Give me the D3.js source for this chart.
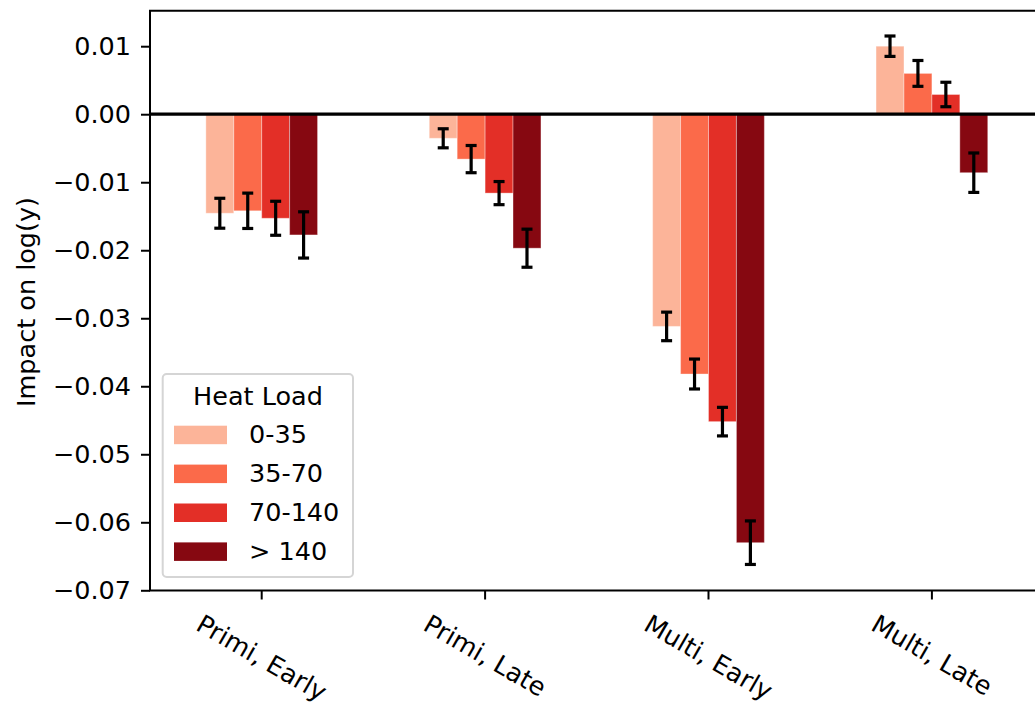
<!DOCTYPE html>
<html>
<head>
<meta charset="utf-8">
<script src="https://cdn.jsdelivr.net/npm/d3@7"></script>
<style>
  body { margin: 0; background: #fff; }
  svg { display: block; font-family: "DejaVu Sans", sans-serif; }
</style>
</head>
<body>
<svg id="chart" width="1035" height="707"></svg>
<script>
// --- DATA ---
const groups = ["Primi, Early", "Primi, Late", "Multi, Early", "Multi, Late"];
const heatLoads = ["0-35", "35-70", "70-140", "> 140"];
const colors = ["#fcb499", "#fb6a4a", "#e32f27", "#860811"];
// impact per heat load, one entry per group
const impact035   = [-0.01456, -0.00354, -0.0312, 0.0100];
const impact3570  = [-0.0142,  -0.0066,  -0.0382, 0.0060];
const impact70140 = [-0.0153,  -0.0116,  -0.0452, 0.0029];
const impact140   = [-0.01775, -0.0197,  -0.0630, -0.0086];
// error half-widths
const err035   = [0.0022, 0.0014, 0.0021, 0.0015];
const err3570  = [0.0026, 0.0020, 0.0022, 0.0019];
const err70140 = [0.0025, 0.0017, 0.0021, 0.0018];
const err140   = [0.0034, 0.0028, 0.0032, 0.0029];
const yTicks = [0.01, 0.00, -0.01, -0.02, -0.03, -0.04, -0.05, -0.06, -0.07];

const values = [impact035, impact3570, impact70140, impact140];
const errors = [err035, err3570, err70140, err140];
const bars = [];
heatLoads.forEach((h, s) => groups.forEach((gName, i) => {
    bars.push({ group: gName, load: h, s: s, value: values[s][i], err: errors[s][i] });
}));

// --- LAYOUT ---
const mLeft = 150, mTop = 10.7, mBottom = 590.5;
const FS = 25.5;
const svg = d3.select("#chart");

const x = d3.scaleBand().domain(groups).range([mLeft, mLeft + 4 * 223.4]).padding(0);
const xInner = d3.scaleBand().domain(heatLoads).range([-x.bandwidth() / 4, x.bandwidth() / 4]);
const y = d3.scaleLinear().domain([0.01522, -0.07003]).range([mTop, mBottom]);

// bars
svg.append("g").selectAll("rect").data(bars).join("rect")
    .attr("x", d => x(d.group) + x.bandwidth() / 2 + xInner(d.load))
    .attr("width", xInner.bandwidth())
    .attr("y", d => Math.min(y(d.value), y(0)))
    .attr("height", d => Math.abs(y(d.value) - y(0)))
    .attr("fill", d => colors[d.s])
    .attr("stroke", "#fff").attr("stroke-opacity", 0.35).attr("stroke-width", 1);

// error bars
const eg = svg.append("g").attr("stroke", "#000").attr("stroke-width", 3.2);
const cx = d => x(d.group) + x.bandwidth() / 2 + xInner(d.load) + xInner.bandwidth() / 2;
eg.selectAll("line.v").data(bars).join("line").attr("class", "v")
    .attr("x1", cx).attr("x2", cx)
    .attr("y1", d => y(d.value - d.err)).attr("y2", d => y(d.value + d.err));
eg.selectAll("line.lo").data(bars).join("line").attr("class", "lo")
    .attr("x1", d => cx(d) - 5.5).attr("x2", d => cx(d) + 5.5)
    .attr("y1", d => y(d.value - d.err)).attr("y2", d => y(d.value - d.err));
eg.selectAll("line.hi").data(bars).join("line").attr("class", "hi")
    .attr("x1", d => cx(d) - 5.5).attr("x2", d => cx(d) + 5.5)
    .attr("y1", d => y(d.value + d.err)).attr("y2", d => y(d.value + d.err));

// zero line
svg.append("line")
    .attr("x1", mLeft).attr("x2", 1035)
    .attr("y1", y(0)).attr("y2", y(0))
    .attr("stroke", "#000").attr("stroke-width", 3.3);

// spines
svg.append("path")
    .attr("d", `M1045,${mTop}H${mLeft}V${mBottom}H1045`)
    .attr("fill", "none").attr("stroke", "#000").attr("stroke-width", 2);

// y axis
const yAxis = svg.append("g").attr("transform", `translate(${mLeft},0)`)
    .call(d3.axisLeft(y).tickValues(yTicks).tickSize(9).tickPadding(10)
        .tickFormat(d => d3.format(".2f")(d).replace("-", "\u2212")));
yAxis.select(".domain").remove();
yAxis.selectAll("line").attr("stroke-width", 2);
yAxis.selectAll("text").attr("font-size", FS).attr("font-family", "DejaVu Sans").attr("fill", "#000");

// x axis
const xAxis = svg.append("g").attr("transform", `translate(0,${mBottom})`)
    .call(d3.axisBottom(x).tickSize(9).tickFormat(""));
xAxis.select(".domain").remove();
xAxis.selectAll("line").attr("stroke-width", 2);

const xl = svg.append("g").selectAll("text").data(groups).join("text")
    .attr("font-size", FS).attr("text-anchor", "middle").attr("dy", "0.35em")
    .text(d => d);
xl.each(function(d) {
    const L = this.getComputedTextLength();
    const H = L * 0.5 + 29 * 0.866;
    const px = x(d) + x.bandwidth() / 2, py = 609 + H / 2;
    d3.select(this).attr("transform", `translate(${px},${py}) rotate(30)`);
});

// y label
svg.append("text")
    .attr("transform", `translate(26,302) rotate(-90)`)
    .attr("text-anchor", "middle").attr("dy", "0.35em")
    .attr("font-size", FS).text("Impact on log(y)");

// legend
const lg = svg.append("g");
lg.append("rect").attr("x", 162.7).attr("y", 374).attr("width", 190.3).attr("height", 203)
    .attr("rx", 4).attr("fill", "#fff").attr("fill-opacity", 0.8)
    .attr("stroke", "#d5d5d5").attr("stroke-width", 2);
lg.append("text").attr("x", 258).attr("y", 405).attr("text-anchor", "middle")
    .attr("font-size", FS).text("Heat Load");
const items = lg.selectAll("g.item").data(heatLoads).join("g").attr("class", "item")
    .attr("transform", (d, i) => `translate(0,${425.7 + i * 38.9})`);
items.append("rect").attr("x", 174).attr("width", 53).attr("height", 18.5)
    .attr("fill", (d, i) => colors[i]);
items.append("text").attr("x", 249).attr("y", 17.7).attr("font-size", FS).text(d => d);
</script>
</body>
</html>
